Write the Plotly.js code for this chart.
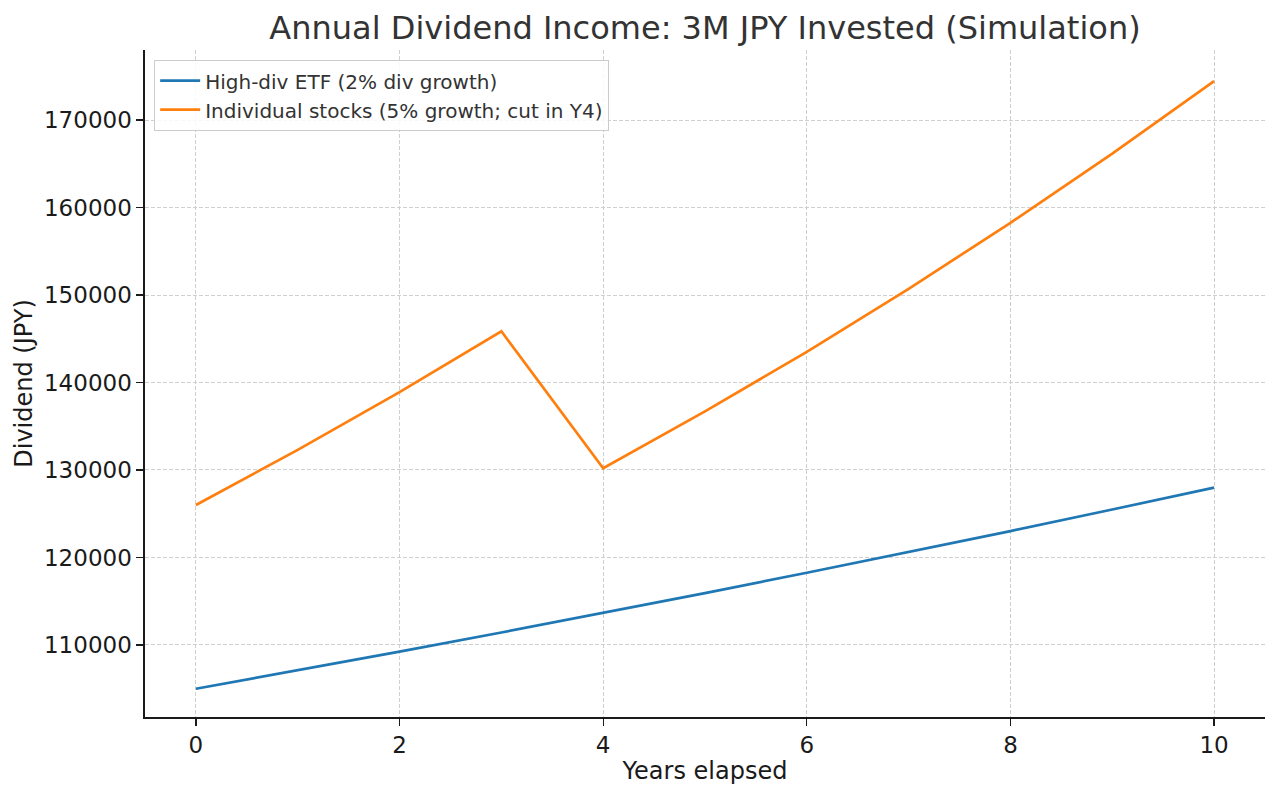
<!DOCTYPE html>
<html>
<head>
<meta charset="utf-8">
<script src="https://cdn.plot.ly/plotly-3.0.1.min.js"></script>
<style>
  html, body { margin: 0; padding: 0; background: #fff; }
  #chart { width: 1280px; height: 795px; }
</style>
</head>
<body>
<div id="chart"></div>
<script>
// Years elapsed
const years = [0, 1, 2, 3, 4, 5, 6, 7, 8, 9, 10];

// Annual dividend (JPY)
const etfDividend = [105000, 107100, 109240, 111430, 113650, 115930, 118250, 120610, 123020, 125490, 127990];
const stockDividend = [126000, 132300, 138900, 145850, 130200, 136700, 143500, 150700, 158250, 166150, 174450];

const seriesNames = ["High-div ETF (2% div growth)", "Individual stocks (5% growth; cut in Y4)"];
const yTicks = [110000, 120000, 130000, 140000, 150000, 160000, 170000];
const xTicks = [0, 2, 4, 6, 8, 10];

var data = [
    {
        x: years, y: etfDividend, name: seriesNames[0],
        type: "scatter", mode: "lines",
        line: { color: "#1f77b4", width: 2.7 }
    },
    {
        x: years, y: stockDividend, name: seriesNames[1],
        type: "scatter", mode: "lines",
        line: { color: "#ff7f0e", width: 2.7 }
    }
];

var layout = {
    width: 1280,
    height: 795,
    margin: { l: 145, r: 15, t: 50, b: 78 },
    paper_bgcolor: "#fff",
    plot_bgcolor: "#fff",
    font: { family: "DejaVu Sans", color: "#1a1a1a" },
    title: {
        text: "Annual Dividend Income: 3M JPY Invested (Simulation)",
        font: { size: 32, color: "#333" },
        xref: "paper", x: 0.5, xanchor: "center", y: 0.965, yanchor: "middle"
    },
    xaxis: {
        range: [-0.5, 10.5],
        tickvals: xTicks,
        ticks: "outside", ticklen: 7, tickwidth: 1.3, tickcolor: "#1a1a1a",
        tickfont: { size: 23, color: "#1a1a1a" },
        showline: true, linecolor: "#1a1a1a", linewidth: 1.6,
        showgrid: true, gridcolor: "#cfcfcf", griddash: "4px,2px", gridwidth: 1,
        zeroline: false,
        title: { text: "Years elapsed", font: { size: 24, color: "#1a1a1a" }, standoff: 5 }
    },
    yaxis: {
        range: [101770, 178000],
        tickvals: yTicks,
        ticktext: yTicks.map(String),
        ticks: "outside", ticklen: 7, tickwidth: 1.3, tickcolor: "#1a1a1a",
        tickfont: { size: 23, color: "#1a1a1a" },
        showline: true, linecolor: "#1a1a1a", linewidth: 1.6,
        showgrid: true, gridcolor: "#cfcfcf", griddash: "4px,2px", gridwidth: 1,
        zeroline: false,
        title: { text: "Dividend (JPY)", font: { size: 24, color: "#1a1a1a" }, standoff: 4 }
    },
    legend: {
        x: 0.008, y: 0.985, xanchor: "left", yanchor: "top",
        bgcolor: "rgba(255,255,255,0.85)",
        bordercolor: "#cccccc", borderwidth: 1.2,
        font: { size: 20, color: "#333" },
        itemwidth: 40,
        tracegroupgap: 0
    },
    showlegend: true
};

Plotly.newPlot("chart", data, layout, { displayModeBar: false, staticPlot: true });
</script>
</body>
</html>
